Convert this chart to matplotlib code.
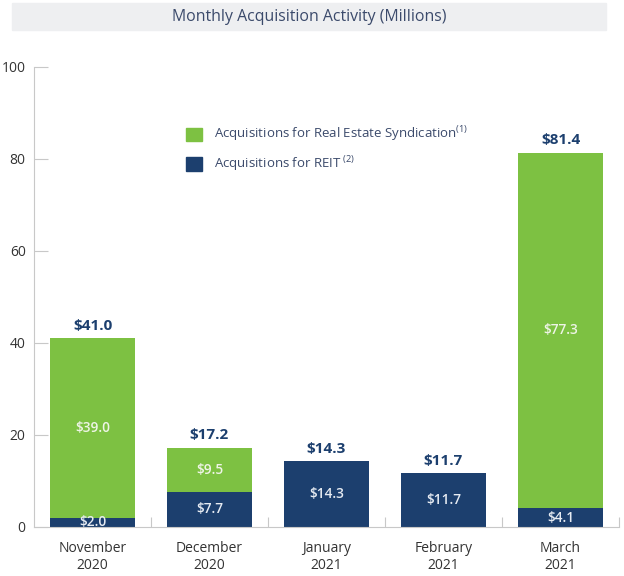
import numpy as np
import matplotlib.pyplot as plt
from matplotlib.patches import Patch

plt.rcParams['font.family'] = ['Open Sans', 'DejaVu Sans']
plt.rcParams['mathtext.fontset'] = 'custom'
plt.rcParams['mathtext.rm'] = 'Open Sans'

months = ['November\n2020', 'December\n2020', 'January\n2021', 'February\n2021', 'March\n2021']
reit = [2.0, 7.7, 14.3, 11.7, 4.1]
syndication = [39.0, 9.5, 0.0, 0.0, 77.3]
totals = [41.0, 17.2, 14.3, 11.7, 81.4]

green = '#7dc142'
navy = '#1c3f6e'
grid_gray = '#c8c8c8'

fig = plt.figure(figsize=(6.24, 5.76), dpi=100)
ax = fig.add_axes([34 / 624, 1 - 527 / 576, 585 / 624, 460 / 576])

x = np.arange(len(months))
w = 0.72
ax.bar(x, reit, width=w, color=navy, zorder=2)
ax.bar(x, syndication, width=w, bottom=reit, color=green, zorder=2)

for i in range(len(months)):
    ax.annotate(f'${totals[i]:.1f}', (x[i], totals[i]), xytext=(0, 4),
                textcoords='offset points', ha='center', va='bottom',
                fontsize=11, fontweight='bold', color=navy)
    if reit[i] > 0:
        ax.text(x[i], reit[i] / 2, f'${reit[i]:.1f}', ha='center', va='center',
                fontsize=9.8, fontweight='semibold', color='#e6ebf2')
    if syndication[i] > 0:
        ax.text(x[i], reit[i] + syndication[i] / 2, f'${syndication[i]:.1f}',
                ha='center', va='center', fontsize=9.8, fontweight='semibold', color='#eef4e6')

ax.set_xlim(-0.5, len(months) - 0.5)
ax.set_ylim(0, 100)
ax.set_yticks([0, 20, 40, 60, 80, 100])
ax.set_xticks(x)
ax.set_xticklabels(months, fontsize=10, color='#333333')
ax.set_xticks(np.arange(0.5, len(months), 1.0), minor=True)
ax.tick_params(axis='x', which='major', length=0, pad=10)
ax.tick_params(axis='x', which='minor', direction='in', length=7, color=grid_gray, width=0.8)
ax.tick_params(axis='y', direction='in', length=10, color=grid_gray, width=0.8,
               labelsize=10, labelcolor='#333333', pad=6)

for side in ['top', 'right']:
    ax.spines[side].set_visible(False)
for side in ['left', 'bottom']:
    ax.spines[side].set_color(grid_gray)
    ax.spines[side].set_linewidth(0.8)

handles = [Patch(color=green, label='Acquisitions for Real Estate Syndication$^{(1)}$'),
           Patch(color=navy, label='Acquisitions for REIT$^{\\ (2)}$')]
ax.legend(handles=handles, loc='upper left', bbox_to_anchor=(0.24, 0.90), frameon=False,
          fontsize=9.5, labelcolor='#3b4a6b', handlelength=1.2, handleheight=1.2,
          labelspacing=0.75, handletextpad=0.9)

fig.patches.append(plt.Rectangle((12 / 624, 1 - 30 / 576), 594 / 624, 27 / 576,
                                 transform=fig.transFigure, color='#eeeff1', zorder=0))
fig.text(309 / 624, 1 - 17 / 576, 'Monthly Acquisition Activity (Millions)',
         ha='center', va='center', fontsize=11.4, color='#3b4a6b')

plt.savefig('out.png', dpi=100)
